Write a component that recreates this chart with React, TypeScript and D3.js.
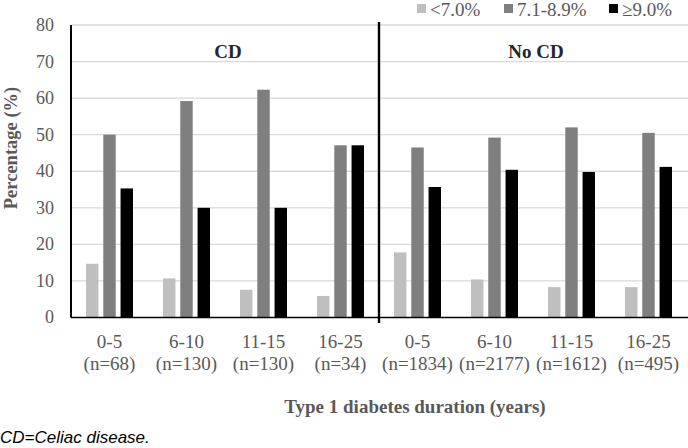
import React from 'react';
import * as d3 from 'd3';

const durations = ['0-5', '6-10', '11-15', '16-25', '0-5', '6-10', '11-15', '16-25'];
const sampleSizes = ['(n=68)', '(n=130)', '(n=130)', '(n=34)', '(n=1834)', '(n=2177)', '(n=1612)', '(n=495)'];
const groups = ['CD', 'No CD'];
const seriesNames = ['<7.0%', '7.1-8.9%', '≥9.0%'];
const seriesColors = ['#bfbfbf', '#7f7f7f', '#000000'];

const below7 = [14.7, 10.7, 7.6, 5.9, 17.8, 10.4, 8.3, 8.3];
const mid71to89 = [50.0, 59.2, 62.3, 47.1, 46.5, 49.2, 52.0, 50.5];
const above9 = [35.3, 30.0, 30.0, 47.1, 35.7, 40.4, 39.8, 41.2];
const series = [below7, mid71to89, above9];

const yTicks = [0, 10, 20, 30, 40, 50, 60, 70, 80];

const W = 688;
const H = 448;
const left = 71;
const right = 687;
const top = 25;
const bottom = 317.5;
const serif = "'Liberation Serif', serif";
const grey = '#595959';

const App: React.FC = () => {
  const x = d3.scaleBand<number>().domain(d3.range(durations.length)).range([left, right]).padding(0);
  const inner = d3.scaleBand<number>().domain([0, 1, 2]).range([15, 62]).paddingInner(0.28);
  const y = d3.scaleLinear().domain([0, 80]).range([bottom, top]);
  const divX = x(4)!;
  const txt = { fontFamily: serif };
  const legendX = [417, 504, 609];

  return (
    <svg width={W} height={H} style={{ position: 'absolute', left: 0, top: 0, background: '#fff', fontFamily: serif }}>
      {/* grid */}
      {yTicks.filter(t => t > 0).map(t => (
        <line key={t} x1={left} x2={W} y1={y(t)} y2={y(t)} stroke="#d9d9d9" strokeWidth={1.3} />
      ))}
      {/* y tick labels */}
      {yTicks.map(t => (
        <text key={t} style={txt} x={54} y={y(t)} dy="0.33em" textAnchor="end" fontSize={18} fill={grey}>{t}</text>
      ))}
      {/* bars */}
      {series.map((vals, si) =>
        vals.map((v, i) => (
          <rect key={`${si}-${i}`} x={x(i)! + inner(si)!} y={y(v)} width={inner.bandwidth()} height={y(0) - y(v)} fill={seriesColors[si]} />
        ))
      )}
      {/* axes */}
      <line x1={left} x2={left} y1={top} y2={bottom} stroke="#000" strokeWidth={2} />
      <line x1={left} x2={W} y1={bottom} y2={bottom} stroke="#000" strokeWidth={1.6} />
      <line x1={divX} x2={divX} y1={22} y2={323} stroke="#000" strokeWidth={2.4} />
      {/* group labels */}
      {groups.map((g, gi) => (
        <text key={g} style={txt} x={(x(gi * 4)! + x(gi * 4 + 3)! + x.bandwidth()) / 2 + 3} y={52} dy="0.33em" textAnchor="middle" fontSize={19} fontWeight="bold" fill="#262626">{g}</text>
      ))}
      {/* x labels */}
      {durations.map((d, i) => (
        <g key={i}>
          <text style={txt} x={x(i)! + x.bandwidth() / 2} y={342} dy="0.33em" textAnchor="middle" fontSize={19} fill={grey}>{d}</text>
          <text style={txt} x={x(i)! + x.bandwidth() / 2} y={364} dy="0.33em" textAnchor="middle" fontSize={19} fill={grey}>{sampleSizes[i]}</text>
        </g>
      ))}
      {/* axis titles */}
      <text style={txt} transform={`translate(11,148) rotate(-90)`} dy="0.33em" textAnchor="middle" fontSize={18.5} fontWeight="bold" fill={grey}>Percentage (%)</text>
      <text style={txt} x={415} y={407} dy="0.33em" textAnchor="middle" fontSize={19} fontWeight="bold" fill={grey}>Type 1 diabetes duration (years)</text>
      {/* legend */}
      {seriesNames.map((n, i) => (
        <g key={n}>
          <rect x={legendX[i]} y={4} width={9} height={9} fill={seriesColors[i]} />
          <text style={txt} x={legendX[i] + 13} y={10} dy="0.33em" fontSize={19} fill={grey}>{n}</text>
        </g>
      ))}
      {/* footnote */}
      <text x={0} y={443} fontSize={17} fontStyle="italic" fill="#000" style={{ fontFamily: "'Liberation Sans', sans-serif" }}>CD=Celiac disease.</text>
    </svg>
  );
};

export default App;
